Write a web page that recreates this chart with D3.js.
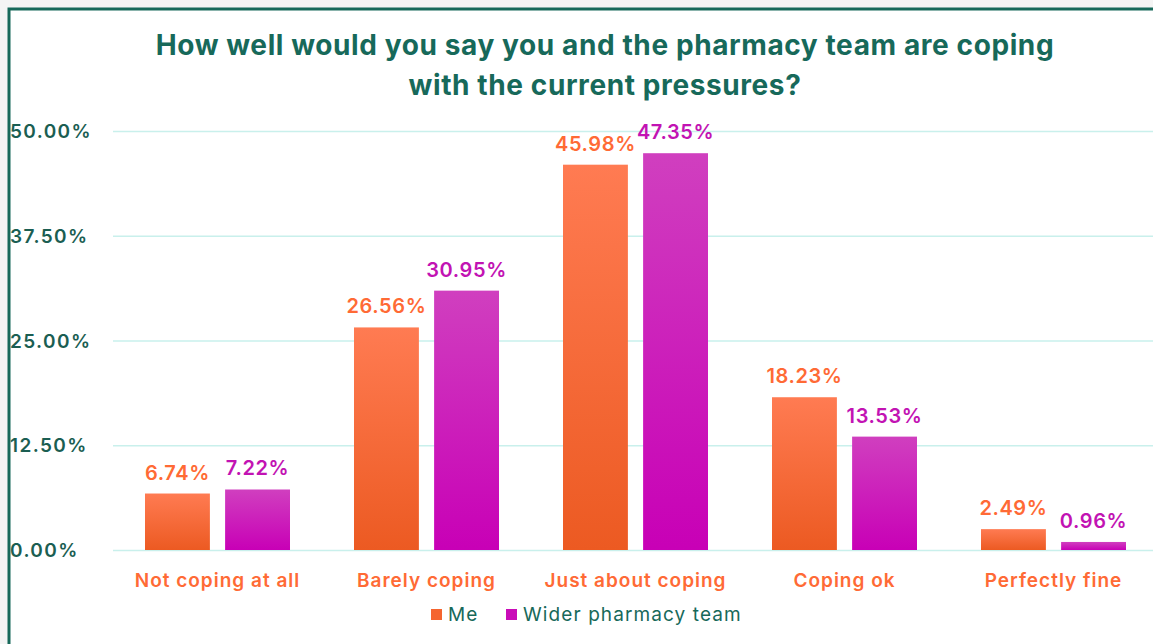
<!DOCTYPE html>
<html>
<head>
<meta charset="utf-8">
<script src="https://cdn.jsdelivr.net/npm/d3@7"></script>
<style>
  body { margin: 0; background: #f4f4f4; }
  svg { display: block; }
</style>
</head>
<body>
<svg id="chart" width="1153" height="644"></svg>
<script>
var categories = ['Not coping at all', 'Barely coping', 'Just about coping', 'Coping ok', 'Perfectly fine'];
var seriesNames = ['Me', 'Wider pharmacy team'];
var meValues = [6.74, 26.56, 45.98, 18.23, 2.49];
var teamValues = [7.22, 30.95, 47.35, 13.53, 0.96];
var yTicks = [0, 12.5, 25, 37.5, 50];
var titleLines = ['How well would you say you and the pharmacy team are coping', 'with the current pressures?'];

var W = 1153, H = 644;
var green = '#17695a';
var font = 'Inter, "Open Sans", sans-serif';

var svg = d3.select('#chart');

// frame
svg.append('rect')
	.attr('x', 9).attr('y', 9)
	.attr('width', W + 20).attr('height', H + 20)
	.attr('fill', '#fff')
	.attr('stroke', green)
	.attr('stroke-width', 3);

var defs = svg.append('defs');
var gradMe = defs.append('linearGradient').attr('id', 'gMe').attr('x1', 0).attr('x2', 0).attr('y1', 0).attr('y2', 1);
gradMe.append('stop').attr('offset', '0%').attr('stop-color', '#ff7b52');
gradMe.append('stop').attr('offset', '100%').attr('stop-color', '#ec5a22');
var gradTeam = defs.append('linearGradient').attr('id', 'gTeam').attr('x1', 0).attr('x2', 0).attr('y1', 0).attr('y2', 1);
gradTeam.append('stop').attr('offset', '0%').attr('stop-color', '#d03fbf');
gradTeam.append('stop').attr('offset', '100%').attr('stop-color', '#c800b6');

var fills = ['url(#gMe)', 'url(#gTeam)'];
var solid = ['#f5652f', '#c90cb8'];
var labelCol = ['#ff6a35', '#c213b3'];

var x0 = d3.scaleBand().domain(categories).range([113, 1158]).paddingInner(0).paddingOuter(0);
var x1 = d3.scaleBand().domain(seriesNames).range([32, x0.bandwidth() - 32]).paddingInner(0.19);
var y = d3.scaleLinear().domain([0, 50]).range([550, 131]);

// title
svg.append('g').selectAll('text')
	.data(titleLines)
	.enter().append('text')
	.attr('x', 605)
	.attr('y', function (d, i) { return 55 + i * 40; })
	.attr('text-anchor', 'middle')
	.attr('fill', green)
	.style('font-family', font)
	.style('font-weight', 700)
	.style('font-size', '28px')
	.style('letter-spacing', '0.6px')
	.text(function (d) { return d; });

// grid + y labels
var yAxis = d3.axisLeft(y).tickValues(yTicks).tickSize(-(W - 113)).tickFormat(function (d) { return d3.format('.2f')(d) + '%'; });
var ga = svg.append('g').attr('transform', 'translate(113,0)').call(yAxis);
ga.select('.domain').remove();
ga.selectAll('.tick line').attr('stroke', '#c9f0ec').attr('stroke-width', 1.5);
ga.selectAll('.tick text')
	.attr('x', -103)
	.attr('text-anchor', 'start')
	.attr('dy', '0.35em')
	.attr('fill', '#1b5e52')
	.style('font-family', font)
	.style('font-weight', 600)
	.style('font-size', '19px')
	.style('letter-spacing', '1.4px');

var rows = categories.map(function (c, i) {
	return { cat: c, vals: [meValues[i], teamValues[i]] };
});

var groups = svg.append('g').selectAll('g')
	.data(rows)
	.enter().append('g')
	.attr('transform', function (d) { return 'translate(' + x0(d.cat) + ',0)'; });

groups.selectAll('rect')
	.data(function (d) { return d.vals; })
	.enter().append('rect')
	.attr('x', function (d, i) { return x1(seriesNames[i]); })
	.attr('y', function (d) { return y(d); })
	.attr('width', x1.bandwidth())
	.attr('height', function (d) { return y(0) - y(d); })
	.attr('fill', function (d, i) { return fills[i]; });

groups.selectAll('text.val')
	.data(function (d) { return d.vals; })
	.enter().append('text')
	.attr('class', 'val')
	.attr('x', function (d, i) { return x1(seriesNames[i]) + x1.bandwidth() / 2; })
	.attr('y', function (d) { return y(d) - 14; })
	.attr('text-anchor', 'middle')
	.attr('fill', function (d, i) { return labelCol[i]; })
	.style('font-family', font)
	.style('font-weight', 600)
	.style('font-size', '20px')
	.style('letter-spacing', '0.6px')
	.text(function (d) { return d.toFixed(2) + '%'; });

// category labels
svg.append('g').selectAll('text')
	.data(categories)
	.enter().append('text')
	.attr('x', function (d) { return x0(d) + x0.bandwidth() / 2; })
	.attr('y', 587)
	.attr('text-anchor', 'middle')
	.attr('fill', '#ff6a35')
	.style('font-family', font)
	.style('font-weight', 600)
	.style('font-size', '19px')
	.style('letter-spacing', '1px')
	.text(function (d) { return d; });

// legend
var legX = [431, 506];
var leg = svg.append('g').selectAll('g')
	.data(seriesNames)
	.enter().append('g')
	.attr('transform', function (d, i) { return 'translate(' + legX[i] + ',609)'; });
leg.append('rect')
	.attr('width', 11).attr('height', 11)
	.attr('fill', function (d, i) { return solid[i]; });
leg.append('text')
	.attr('x', 17).attr('y', 12)
	.attr('fill', green)
	.style('font-family', font)
	.style('font-size', '19px')
	.style('letter-spacing', '1.1px')
	.text(function (d) { return d; });
</script>
</body>
</html>
